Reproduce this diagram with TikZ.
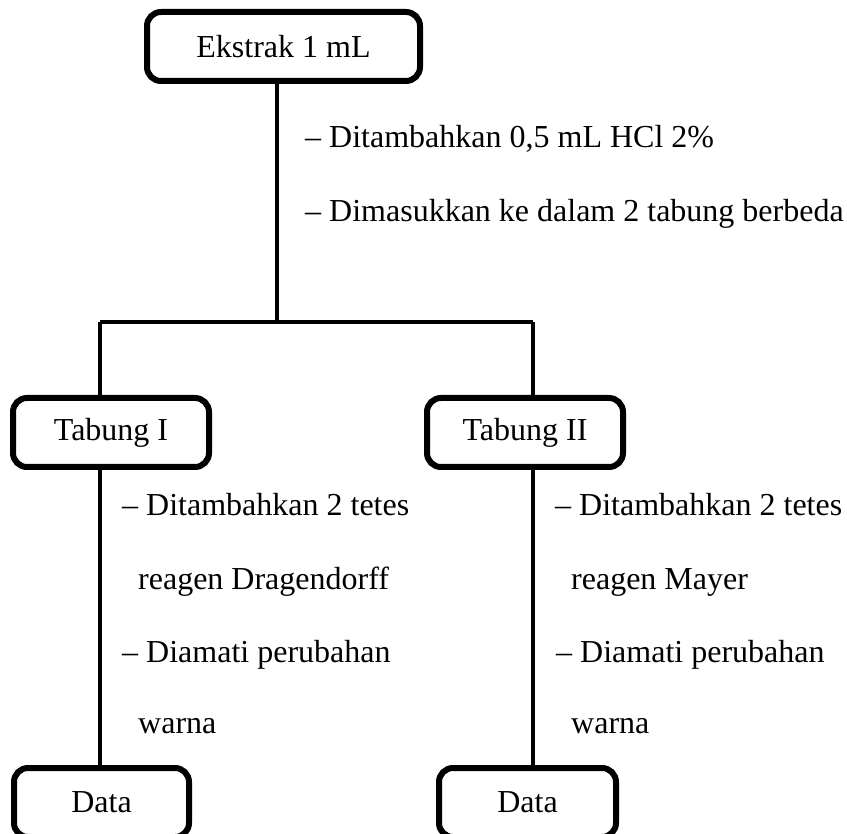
\documentclass[tikz,border=0pt]{standalone}
\usepackage{fontspec}
\setmainfont{Liberation Serif}
\usetikzlibrary{positioning}
\tikzstyle{step box}=[draw,rounded corners=14pt,line width=6pt,inner sep=0pt,minimum height=69pt]
\tikzstyle{link}=[draw,line width=4pt]
\tikzstyle{note}=[anchor=base west,inner sep=0pt]

\begin{document}
\begin{tikzpicture}[x=1pt,y=-1pt,font=\fontsize{32}{38}\selectfont]
          \useasboundingbox (0,0) rectangle (847,834);
          \clip (0,0) rectangle (847,834);
          % boxes
          \node[step box,minimum width=273pt] (ekstrak) at (283.5,46.5) {Ekstrak 1 mL};
          \node[step box,minimum width=196pt] (tab1) at (111,432.5) {Tabung I};
          \node[step box,minimum width=196pt] (tab2) at (525,432.5) {Tabung II};
          \node[step box,minimum width=175pt] (data1) at (101.5,802.5) {Data};
          \node[step box,minimum width=177pt] (data2) at (527.5,802.5) {Data};
          % branch points
          \coordinate (split) at (277,322);
          \coordinate (left) at (100,322);
          \coordinate (right) at (533,322);
          \draw[link] (split |- ekstrak.south) -- (split);
          \draw[link] (left) -- (right);
          \draw[link] (left) -- (left |- tab1.north);
          \draw[link] (right) -- (right |- tab2.north);
          \draw[link] (left |- tab1.south) -- (left |- data1.north);
          \draw[link] (right |- tab2.south) -- (right |- data2.north);
          % steps
          \node[note] (s1) at (305,148) {-- Ditambahkan 0,5 mL HCl 2\%};
          \node[note] (s2) at (305,222) {-- Dimasukkan ke dalam 2 tabung berbeda};
          \node[note] (a1) at (122,515) {-- Ditambahkan 2 tetes};
          \node[note] (a2) at (138,589) {reagen Dragendorff};
          \node[note] (a3) at (122,662) {-- Diamati perubahan};
          \node[note] (a4) at (138,733) {warna};
          \node[note] (b1) at (555,515) {-- Ditambahkan 2 tetes};
          \node[note] (b2) at (571,589) {reagen Mayer};
          \node[note] (b3) at (556,662) {-- Diamati perubahan};
          \node[note] (b4) at (571,733) {warna};
\end{tikzpicture}
\end{document}
